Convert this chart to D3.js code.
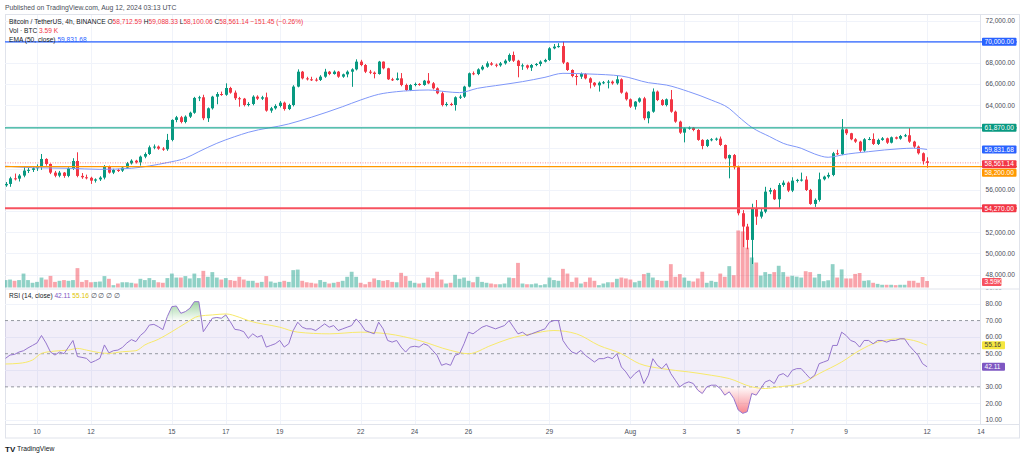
<!DOCTYPE html>
<html><head><meta charset="utf-8">
<script src="https://cdn.jsdelivr.net/npm/d3@7"></script>
<style>
html,body{margin:0;padding:0;background:#fff;}
svg{display:block;font-family:"Liberation Sans",Arial,sans-serif;}
</style></head><body>
<svg id="c" width="1024" height="457"></svg>
<script>
// ---------- DATA ----------
const firstCandleUTC = Date.UTC(2024, 6, 8, 20); // open time of first visible 4h candle
const candleHours = 4;

const opens = [
56440,56570,57100,57070,57360,57830,57900,58050,58200,58930,
58460,57640,57350,57640,57330,58050,58740,57330,57200,57150,
56880,57000,57170,58200,57640,57890,57830,58110,58520,58770,
58610,59150,59400,60030,60100,59910,59850,60730,62620,62870,
62430,62930,63300,64700,64760,62780,63720,64820,65070,65000,
65640,65200,64670,64630,64030,64130,64820,64630,64760,63500,
63720,63940,64250,63650,64030,65770,67180,66550,66460,66430,
66400,66710,67180,66960,67180,66710,66930,67180,67400,68130,
67810,67180,67090,66960,68130,67500,66460,66400,66550,65920,
65450,65920,66020,65920,66330,66080,65610,65140,64030,64130,
64030,64760,64820,65770,67030,66960,67400,67650,67970,67840,
67780,67970,68220,68760,68220,67720,67780,67560,67810,67910,
68130,68290,69390,69550,69600,68040,67340,66770,66710,66960,
66550,66140,65890,66140,66180,66240,66080,66460,65200,64570,
63880,64350,64660,62780,63400,65300,64500,64030,64570,63400,
62460,61420,61830,61890,61670,60730,60160,60730,60790,60850,
60250,58990,59300,58150,53800,52540,51280,54270,53480,53950,
55840,55990,55120,56470,56690,55940,56880,56950,56980,56000,
54680,55060,57010,57260,57420,59470,59380,61730,61360,60790,
60570,59720,60790,60820,60350,60730,60880,60470,60980,60850,
61100,61170,60570,60100,59470,58712.59];

const highs = [
56750,57250,57550,57500,58200,58100,58250,58420,59400,59000,
58500,57800,57800,57700,58150,59000,59560,57600,57450,57250,
57100,57300,58350,58300,58000,58000,58200,58650,58900,58850,
59250,59550,60200,60300,60200,60050,61300,62680,63000,63000,
63050,63400,64800,64900,65000,63800,64900,65250,65300,66080,
65750,65400,64800,64700,64300,64950,64950,64900,65200,63850,
64100,64400,64350,64150,65900,67400,67250,66700,66700,66600,
66850,67450,67250,67300,67250,67000,67300,67500,68350,68300,
67900,67350,67200,68200,68150,67550,66600,67100,67050,66050,
66000,66150,66100,66400,67050,66200,65700,65300,64300,64250,
64850,65000,65850,67100,67200,67500,67800,68150,68100,67950,
68100,68350,68900,69080,68300,67950,67850,67900,68000,68250,
68400,69500,69800,69870,70020,68100,67400,66950,67100,67050,
66650,66200,66250,66300,66400,66350,66800,66550,65300,64650,
64400,64750,64800,63450,65600,65400,64600,64650,65450,63500,
62550,61900,62000,61950,61750,60800,60800,60900,60950,61050,
60300,59350,59400,58300,54100,52800,54700,55050,54300,56300,
56200,56100,56650,56900,56800,57200,57050,57640,57300,56100,
55200,57640,57350,57640,59600,59800,62700,61800,61400,60900,
60650,60900,61000,61350,60850,61000,60950,61050,61050,61200,
61300,61850,60650,60200,59550,59088.33];

const lows = [
56300,56300,56900,56800,57200,57600,57700,57800,57900,58300,
57500,57200,57200,57150,57200,57900,57200,57050,57000,56570,
56700,56850,57000,57550,57500,57700,57700,58000,58400,58500,
58300,59000,59300,59850,59800,59700,59700,60600,62400,62300,
62300,62800,63200,64400,62600,62430,63600,64100,64900,64900,
65100,64500,63870,63900,63900,64000,64500,64500,63400,63300,
63600,63800,63500,63550,63900,65700,66450,66350,66300,66250,
66300,66600,66850,66900,66600,66600,66650,65750,67300,67700,
67050,66950,66550,66900,67400,66400,66300,66350,65800,65350,
65350,65800,65850,65850,66000,65500,65050,63900,63900,63950,
63500,64600,64700,65700,66850,66850,67300,67550,67750,67600,
67650,67850,68100,68100,66650,67350,67400,67250,67700,67700,
68050,68200,69300,69450,67900,67250,66650,65900,66500,66450,
65600,65750,65300,66000,65600,65950,65950,65100,64450,63750,
63600,64250,62600,62300,63300,64400,63950,63900,63300,62350,
61300,60500,61700,61550,60650,59850,60050,60600,60650,60150,
58900,57100,57950,53600,50600,50400,49000,52700,53300,53800,
55600,55050,54270,56300,55800,55800,56700,56800,55900,54600,
54400,54900,56900,57100,57300,59300,59300,61200,60700,60450,
59600,59600,60700,60250,60250,60650,60350,60400,60780,60750,
61000,60450,59950,59350,58400,58100.06];

const closes = [
56570,57100,57070,57360,57830,57900,58050,58200,58930,58460,
57640,57350,57640,57330,58050,58740,57330,57200,57150,56880,
57000,57170,58200,57640,57890,57830,58110,58520,58770,58610,
59150,59400,60030,60100,59910,59850,60730,62620,62870,62430,
62930,63300,64700,64760,62780,63720,64820,65070,65000,65640,
65200,64670,64630,64030,64130,64820,64630,64760,63500,63720,
63940,64250,63650,64030,65770,67180,66550,66460,66430,66400,
66710,67180,66960,67180,66710,66930,67180,67400,68130,67810,
67180,67090,66960,68130,67500,66460,66400,66550,65920,65450,
65920,66020,65920,66330,66080,65610,65140,64030,64130,64030,
64760,64820,65770,67030,66960,67400,67650,67970,67840,67780,
67970,68220,68760,68220,67720,67780,67560,67810,67910,68130,
68290,69390,69550,69600,68040,67340,66770,66710,66960,66550,
66140,65890,66140,66180,66240,66080,66460,65200,64570,63880,
64350,64660,62780,63400,65300,64500,64030,64570,63400,62460,
61420,61830,61890,61670,60730,60160,60730,60790,60850,60250,
58990,59300,58150,53800,52540,51280,54270,53480,53950,55840,
55990,55120,56470,56690,55940,56880,56950,56980,56000,54680,
55060,57010,57260,57420,59470,59380,61730,61360,60790,60570,
59720,60790,60820,60350,60730,60880,60470,60980,60850,61100,
61170,60570,60100,59470,58712.59,58561.14];

const volumesK = [
4.1,4.4,3.7,4.1,7.7,4.1,2.6,3.1,5.5,4.4,
6.4,3.1,3.7,4.1,3.7,4.1,10.7,3.1,4.1,2.9,
3.1,3.3,6.3,4.8,1.3,2.2,2.9,2.9,2.6,2.2,
4.8,4.1,5.2,4.1,2.9,2.6,5.2,7.7,5.5,5.5,
6.3,5.0,7.7,5.2,9.2,5.9,8.5,5.5,4.4,5.2,
4.1,3.7,5.9,4.4,3.7,3.7,2.6,3.1,6.3,3.3,
2.6,3.1,3.7,3.1,9.6,9.9,3.7,2.9,2.6,2.2,
4.1,3.1,2.2,2.6,3.1,3.7,5.9,8.7,5.9,2.6,
1.8,3.1,5.0,4.1,3.7,4.1,3.1,2.9,8.1,6.3,
3.7,2.6,2.2,2.6,5.5,5.2,8.7,4.4,2.2,2.6,
7.0,4.8,5.5,3.7,2.9,5.9,3.1,2.6,2.2,1.8,
1.8,2.2,5.5,5.2,13.6,2.2,1.8,1.8,2.2,1.3,
1.8,5.5,4.1,3.7,10.3,7.7,3.1,5.5,2.2,3.1,
5.5,3.7,1.3,2.2,2.9,2.9,4.8,5.5,5.0,4.4,
2.9,3.7,7.4,8.1,5.5,4.1,3.7,3.7,12.9,5.9,
7.4,5.5,3.7,3.3,5.0,8.7,2.6,3.7,3.1,7.7,
5.9,11.8,6.8,31.5,31.0,22.0,16.6,13.8,6.6,8.5,
7.5,8.5,12.0,8.5,6.0,6.5,6.0,5.5,9.0,8.5,
5.5,7.5,3.5,4.0,12.9,5.5,10.0,5.0,5.0,7.5,
8.0,3.7,4.0,2.6,2.0,1.5,1.5,1.5,1.3,1.5,
1.5,3.7,3.7,2.6,5.8,3.59];

const rsiValues = [
47.2,49.2,49.6,51.0,51.8,53.5,55.0,56.5,61.0,56.5,
51.0,49.2,51.0,50.0,54.0,58.0,48.3,47.8,47.2,44.6,
45.8,47.2,55.3,50.5,51.8,52.2,53.8,56.5,58.5,57.3,
61.0,63.3,67.3,67.7,66.3,64.5,72.5,78.4,78.8,74.4,
75.4,77.4,81.4,81.4,63.3,67.3,71.4,71.9,71.4,73.4,
69.3,64.7,64.3,63.3,59.3,62.0,60.0,61.0,54.0,55.0,
56.0,58.0,54.0,56.0,64.0,69.0,66.0,65.0,65.0,64.0,
66.0,68.0,66.0,67.0,64.0,65.0,66.0,67.0,71.0,68.0,
64.0,63.0,62.0,69.0,65.0,58.0,57.0,58.0,54.0,51.0,
54.0,54.5,54.0,56.0,55.0,52.0,49.0,43.0,44.0,43.0,
49.0,50.0,56.0,63.0,62.0,64.0,66.0,67.0,66.0,65.0,
66.0,67.0,70.0,66.0,62.0,63.0,61.0,62.0,63.0,64.0,
65.0,69.0,70.0,70.0,58.0,54.0,51.0,50.0,52.0,49.0,
47.0,45.0,47.0,47.0,48.0,47.0,50.0,42.0,39.0,35.0,
38.0,40.0,32.0,37.0,47.0,43.0,41.0,44.0,38.0,34.0,
30.0,32.0,33.0,32.0,28.0,26.0,30.0,31.0,31.0,29.0,
25.0,27.0,23.0,16.0,14.0,15.0,26.0,25.0,29.0,33.0,
34.0,32.0,37.0,38.0,36.0,40.0,41.0,41.0,38.0,35.0,
37.0,44.0,45.0,46.0,55.0,55.0,63.0,61.0,58.0,57.0,
54.0,58.0,58.0,56.0,58.0,58.0,57.0,58.0,58.0,59.0,
59.0,55.0,52.0,49.0,44.0,42.11];

// RSI moving average, read at these candle indices
const rsiMaIndex = [0,3,6,8,11,14,16,18,21,23,26,29,31,34,37,40,43,46,49,52,54,61,65,72,79,85,92,99,103,108,112,117,122,127,132,137,141,146,152,157,161,166,169,172,177,181,186,190,194,199,202,205];
const rsiMaValues = [43.8,44.2,46.2,50.2,51.6,52.2,53.2,52.2,50.6,50.2,51.2,51.8,55.3,58.7,63.3,68.3,72.7,73.4,74.0,72.0,70.0,66,63,62,63,62,58,52,50,55,59,62,64,62,55,50,44,41,39,37,35,30,29,30,32,38,45,52,57,59,58,55.16];

// EMA(50) read at these candle indices
const emaIndex = [0,6,14,21,28,32,36,40,43,47,51,54,63,68,75,79,83,87,90,94,98,101,105,109,115,120,124,130,137,143,147,152,157,161,163,166,170,173,177,180,183,185,186,192,199,202,205];
const emaValues = [58250,58110,58050,57950,58050,58270,58590,59000,59620,60410,61040,61450,62240,62870,63876,64506,65040,65290,65390,65450,65290,65200,65610,65860,66240,66650,67026,66960,66770,66140,65920,65290,64500,63700,62950,61920,61040,60410,59940,59400,59090,59210,59300,59620,59900,59950,59831.68];

const priceTicks = [72000,70000,68000,66000,64000,62000,60000,58000,56000,54000,52000,50000,48000];
const rsiTicks = [90,80,70,60,50,40,30,20,10];
const timeTicks = ["2024-07-10","2024-07-12","2024-07-15","2024-07-17","2024-07-19","2024-07-22","2024-07-24","2024-07-26","2024-07-29","2024-08-01","2024-08-03","2024-08-05","2024-08-07","2024-08-09","2024-08-12","2024-08-14"];
const timeTickLabels = ["10","12","15","17","19","22","24","26","29","Aug","3","5","7","9","12","14"];

const levelPrices = [70000, 61870, 58200, 54270];
const levelLabels = ["70,000.00","61,870.00","58,200.00","54,270.00"];
const lastPrice = 58561.14, lastPriceLabel = "58,561.14";
const emaLast = 59831.68, emaLastLabel = "59,831.68";
const volLast = 3.59, volLastLabel = "3.59K";
const rsiLast = 42.11, rsiMaLast = 55.16;

// ---------- STYLE / LAYOUT ----------
const UP = "#089981", DOWN = "#f23645";
const levelColors = ["#2962ff", "#22ab94", "#ff9800", "#f7525f"];
const levelBoxColors = ["#2962ff", "#089981", "#ff9800", "#f23645"];
const plotL = 5, plotR = 980, pTop = 15, pBot = 288.5, rTop = 289.5, rBot = 424, axBot = 438;
const FS = 6.6;

const svg = d3.select("#c");
const x = d3.scaleUtc().domain([new Date(Date.UTC(2024,6,10)), new Date(Date.UTC(2024,7,14))]).range([37, 981]);
const yP = d3.scaleLinear().domain([48000, 72000]).range([274.6, 20.7]);
const yV = d3.scaleLinear().domain([0, 10]).range([287.5, 269.4]);
const yR = d3.scaleLinear().domain([10, 80]).range([420, 304]);
const tOf = i => new Date(firstCandleUTC + i * candleHours * 3600e3);
const xi = i => x(tOf(i));

const defs = svg.append("defs");
defs.append("clipPath").attr("id","cp").append("rect").attr("x",plotL).attr("y",pTop).attr("width",plotR-plotL).attr("height",pBot-pTop);
defs.append("clipPath").attr("id","cr").append("rect").attr("x",plotL).attr("y",rTop).attr("width",plotR-plotL).attr("height",rBot-rTop);
defs.append("clipPath").attr("id","cob").append("rect").attr("x",plotL).attr("y",rTop).attr("width",plotR-plotL).attr("height",yR(70)-rTop);
defs.append("clipPath").attr("id","cos").append("rect").attr("x",plotL).attr("y",yR(30)).attr("width",plotR-plotL).attr("height",rBot-yR(30));
defs.append("clipPath").attr("id","cra").append("rect").attr("x",plotR).attr("y",rTop).attr("width",44).attr("height",rBot-rTop);
const gOb = defs.append("linearGradient").attr("id","gob").attr("x1",0).attr("x2",0).attr("gradientUnits","userSpaceOnUse")
  .attr("y1", yR(82)).attr("y2", yR(70));
gOb.append("stop").attr("offset",0).attr("stop-color","#4caf50").attr("stop-opacity",0.55);
gOb.append("stop").attr("offset",1).attr("stop-color","#4caf50").attr("stop-opacity",0.02);
const gOs = defs.append("linearGradient").attr("id","gos").attr("x1",0).attr("x2",0).attr("gradientUnits","userSpaceOnUse")
  .attr("y1", yR(30)).attr("y2", yR(14));
gOs.append("stop").attr("offset",0).attr("stop-color","#f23645").attr("stop-opacity",0.02);
gOs.append("stop").attr("offset",1).attr("stop-color","#f23645").attr("stop-opacity",0.6);

// frame
svg.append("rect").attr("x",plotL+0.5).attr("y",pTop-0.5).attr("width",1019-plotL).attr("height",axBot-pTop+0.5)
  .attr("fill","none").attr("stroke","#e0e3eb").attr("stroke-width",1);

// grid
const grid = svg.append("g").attr("stroke","#f0f3fa").attr("stroke-width",1);
timeTicks.forEach(d => {
  const xx = Math.round(x(new Date(d+"T00:00:00Z")))+0.5;
  if (xx < plotR) {
    grid.append("line").attr("x1",xx).attr("x2",xx).attr("y1",pTop).attr("y2",pBot);
    grid.append("line").attr("x1",xx).attr("x2",xx).attr("y1",rTop).attr("y2",rBot);
  }
});
priceTicks.forEach(p => { const yy = Math.round(yP(p))+0.5; if (yy>pTop && yy<pBot) grid.append("line").attr("x1",plotL).attr("x2",plotR).attr("y1",yy).attr("y2",yy); });
rsiTicks.forEach(v => { if (v===70||v===50||v===30) return; const yy = Math.round(yR(v))+0.5; if (yy>rTop) grid.append("line").attr("x1",plotL).attr("x2",plotR).attr("y1",yy).attr("y2",yy); });

// pane separators
svg.append("line").attr("x1",plotL).attr("x2",1019).attr("y1",289).attr("y2",289).attr("stroke","#e0e3eb");
svg.append("line").attr("x1",plotR+0.5).attr("x2",plotR+0.5).attr("y1",pTop).attr("y2",rBot).attr("stroke","#e0e3eb");
svg.append("line").attr("x1",plotL).attr("x2",1019).attr("y1",rBot+0.5).attr("y2",rBot+0.5).attr("stroke","#e0e3eb");

// ---------- PRICE PANE ----------
const pp = svg.append("g").attr("clip-path","url(#cp)");
const idx = d3.range(closes.length);
// volume
pp.append("g").selectAll("rect").data(idx).join("rect")
  .attr("x", i => xi(i) - 1.9).attr("width", 3.8)
  .attr("y", i => yV(volumesK[i])).attr("height", i => yV(0) - yV(volumesK[i]))
  .attr("fill", i => closes[i] >= opens[i] ? UP : DOWN).attr("fill-opacity", 0.45);
// candles
const cg = pp.append("g");
cg.selectAll("line").data(idx).join("line")
  .attr("x1", i => Math.round(xi(i))+0.5).attr("x2", i => Math.round(xi(i))+0.5)
  .attr("y1", i => yP(highs[i])).attr("y2", i => yP(lows[i]))
  .attr("stroke", i => closes[i] >= opens[i] ? UP : DOWN).attr("stroke-width", 1);
cg.selectAll("rect").data(idx).join("rect")
  .attr("x", i => Math.round(xi(i)) - 1).attr("width", 3)
  .attr("y", i => yP(Math.max(opens[i], closes[i])))
  .attr("height", i => Math.max(1, Math.abs(yP(opens[i]) - yP(closes[i]))))
  .attr("fill", i => closes[i] >= opens[i] ? UP : DOWN);
// EMA
pp.append("path").datum(emaIndex.map((k,j)=>[xi(k), yP(emaValues[j])]))
  .attr("d", d3.line().curve(d3.curveMonotoneX)).attr("fill","none").attr("stroke","#7f97f8").attr("stroke-width",1);
// last price dotted
pp.append("line").attr("x1",plotL).attr("x2",plotR).attr("y1",yP(lastPrice)).attr("y2",yP(lastPrice))
  .attr("stroke",DOWN).attr("stroke-opacity",0.55).attr("stroke-dasharray","1,1.5").attr("stroke-width",1);
// horizontal levels
levelPrices.forEach((p,j) => {
  svg.append("line").attr("x1",plotL).attr("x2",1017).attr("y1",yP(p)).attr("y2",yP(p))
    .attr("stroke",levelColors[j]).attr("stroke-width", j===3 ? 1.8 : 1.3);
});

// ---------- RSI PANE ----------
const rp = svg.append("g").attr("clip-path","url(#cr)");
rp.append("rect").attr("x",plotL).attr("width",plotR-plotL).attr("y",yR(70)).attr("height",yR(30)-yR(70)).attr("fill","#7e57c2").attr("fill-opacity",0.1);
[70,50,30].forEach(v => rp.append("line").attr("x1",plotL).attr("x2",plotR).attr("y1",yR(v)).attr("y2",yR(v))
  .attr("stroke","#9598a1").attr("stroke-dasharray","3,3").attr("stroke-width",1));
const rsiPts = rsiValues.map((v,i)=>[xi(i), yR(v)]);
rp.append("path").datum(rsiPts).attr("clip-path","url(#cob)")
  .attr("d", d3.area().x(d=>d[0]).y0(yR(70)).y1(d=>d[1])).attr("fill","url(#gob)");
rp.append("path").datum(rsiPts).attr("clip-path","url(#cos)")
  .attr("d", d3.area().x(d=>d[0]).y0(yR(30)).y1(d=>d[1])).attr("fill","url(#gos)");
rp.append("path").datum(rsiMaIndex.map((k,j)=>[xi(k), yR(rsiMaValues[j])]))
  .attr("d", d3.line().curve(d3.curveMonotoneX)).attr("fill","none").attr("stroke","#f7e96a").attr("stroke-width",1);
rp.append("path").datum(rsiPts).attr("d", d3.line()).attr("fill","none").attr("stroke","#9575cd").attr("stroke-width",1);

// ---------- LABEL BOX POSITIONS ----------
const priceBoxes = [
  {y: yP(levelPrices[0]), t: levelLabels[0], bg: levelBoxColors[0], fg: "#fff", w: 34.5},
  {y: yP(levelPrices[1]), t: levelLabels[1], bg: levelBoxColors[1], fg: "#fff", w: 34.5},
  {y: yP(emaLast), t: emaLastLabel, bg: "#2962ff", fg: "#fff", w: 34.5},
  {y: yP(lastPrice)+1.3, t: lastPriceLabel, bg: DOWN, fg: "#fff", w: 34.5},
  {y: yP(levelPrices[2])+6, t: levelLabels[2], bg: levelBoxColors[2], fg: "#fff", w: 34.5},
  {y: yP(levelPrices[3]), t: levelLabels[3], bg: levelBoxColors[3], fg: "#fff", w: 34.5},
  {y: yV(volLast)+1, t: volLastLabel, bg: "#f7525f", fg: "#fff", w: 19.5, noHide: true}
];
const rsiBoxes = [
  {y: yR(rsiMaLast), t: d3.format(".2f")(rsiMaLast), bg: "#f5e63f", fg: "#3d3d3d", w: 23},
  {y: yR(rsiLast), t: d3.format(".2f")(rsiLast), bg: "#7e57c2", fg: "#fff", w: 23}
];
const hidden = (yy, boxes) => boxes.some(b => !b.noHide && Math.abs(b.y - yy) < 7.5);

// ---------- AXES ----------
const fmt = d3.format(",.2f");
const pa = svg.append("g").attr("font-size",FS).attr("fill","#4a4e59");
priceTicks.forEach(p => { if (!hidden(yP(p), priceBoxes)) pa.append("text").attr("x",985.5).attr("y",yP(p)).attr("dy","0.35em").text(fmt(p)); });
const ra = svg.append("g").attr("font-size",FS).attr("fill","#4a4e59").attr("clip-path","url(#cra)");
rsiTicks.forEach(v => { if (!hidden(yR(v), rsiBoxes)) ra.append("text").attr("x",985.5).attr("y",yR(v)).attr("dy","0.35em").text(fmt(v)); });
const ta = svg.append("g").attr("font-size",FS).attr("fill","#4a4e59").attr("text-anchor","middle");
timeTicks.forEach((d,j) => ta.append("text").attr("x", x(new Date(d+"T00:00:00Z"))).attr("y",432).attr("dy","0.35em").text(timeTickLabels[j]));

function box(b) {
  const g = svg.append("g");
  g.append("rect").attr("x",982).attr("y",b.y-4).attr("width",b.w).attr("height",8).attr("rx",1).attr("fill",b.bg);
  g.append("text").attr("x",984.5).attr("y",b.y).attr("dy","0.35em").attr("font-size",FS).attr("fill",b.fg).text(b.t);
}
priceBoxes.forEach(box);
rsiBoxes.forEach(box);

// ---------- TEXTS ----------
svg.append("text").attr("x",5).attr("y",7.5).attr("dy","0.35em").attr("font-size",6.8).attr("fill","#4a4e59")
  .text("Published on TradingView.com, Aug 12, 2024 03:13 UTC");
const l1 = svg.append("text").attr("x",9).attr("y",21.5).attr("dy","0.35em").attr("font-size",FS).attr("fill","#131722");
l1.append("tspan").text("Bitcoin / TetherUS, 4h, BINANCE  ");
[["O","58,712.59"],["H","59,088.33"],["L","58,100.06"],["C","58,561.14"]].forEach(([a,b]) => {
  l1.append("tspan").text(a); l1.append("tspan").attr("fill",DOWN).text(b+"  ");
});
l1.append("tspan").attr("fill",DOWN).text("\u2212151.45 (\u22120.26%)");
const l2 = svg.append("text").attr("x",9).attr("y",30.5).attr("dy","0.35em").attr("font-size",FS).attr("fill","#131722");
l2.append("tspan").text("Vol \u00b7 BTC  "); l2.append("tspan").attr("fill",DOWN).text("3.59 K");
const l3 = svg.append("text").attr("x",9).attr("y",39.2).attr("dy","0.35em").attr("font-size",FS).attr("fill","#131722");
l3.append("tspan").text("EMA (50, close)  "); l3.append("tspan").attr("fill","#2962ff").text("59,831.68");
const l4 = svg.append("text").attr("x",9).attr("y",295.8).attr("dy","0.35em").attr("font-size",FS).attr("fill","#131722");
l4.append("tspan").text("RSI (14, close)  ");
l4.append("tspan").attr("fill","#7e57c2").text("42.11  ");
l4.append("tspan").attr("fill","#e0c400").text("55.16  ");
l4.append("tspan").attr("fill","#4a4e59").text("\u2205  \u2205  \u2205  \u2205");

// logo
svg.append("text").attr("x",5).attr("y",449).attr("dy","0.35em").attr("font-size",8).attr("font-weight","bold").attr("fill","#131722").text("TV");
svg.append("text").attr("x",17).attr("y",449).attr("dy","0.35em").attr("font-size",6.8).attr("fill","#131722").text("TradingView");
</script>
</body></html>
